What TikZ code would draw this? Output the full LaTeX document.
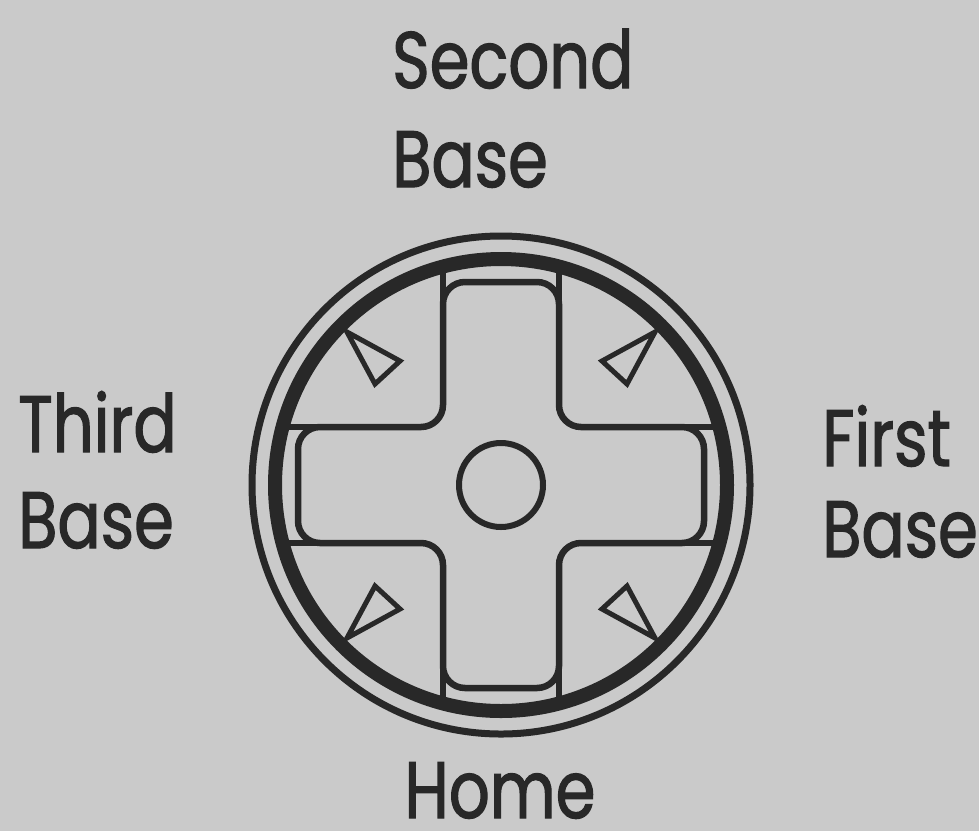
\documentclass[tikz,border=0pt]{standalone}
\usepackage{fontspec}
\setmainfont{Poppins}[FakeStretch=0.8, FakeBold=1.5]
\usetikzlibrary{calc}
\definecolor{paper}{RGB}{202,202,202}
\definecolor{ink}{RGB}{40,40,40}

\begin{document}
\begin{tikzpicture}[x=1pt, y=-1pt,
  every node/.style={font=\fontsize{80}{96}\selectfont, text=ink, inner sep=0pt},
  tag/.style={anchor=base west},
  ring/.style={draw=ink, line width=14pt},
  rim/.style={draw=ink, line width=7pt},
  pad/.style={draw=ink, line width=6.5pt, rounded corners=22pt},
  tri/.style={draw=ink, line width=5pt, line join=miter}
]
\fill[paper] (0,0) rectangle (979,831);
\useasboundingbox (0,0) rectangle (979,831);

% Controller
\coordinate (C) at (501,485);
\begin{scope}[shift={(C)}]
  % arm sides run out to the ring
  \foreach \a in {0,90,180,270}
    \draw[draw=ink, line width=6.5pt, rotate=\a] (58,-175) -- (58,-224) (-58,-175) -- (-58,-224);
  % the cross
  \draw[pad] (-58,-203) -- (58,-203) -- (58,-58) -- (203,-58) -- (203,58)
    -- (58,58) -- (58,203) -- (-58,203) -- (-58,58) -- (-203,58)
    -- (-203,-58) -- (-58,-58) -- cycle;
  % small arrows in the corners
  \foreach \sx/\sy in {1/1,1/-1,-1/1,-1/-1}
    \draw[tri, xscale=\sx, yscale=\sy] (154,153) -- (101,124) -- (126,101) -- cycle;
\end{scope}
\draw[rim] (C) circle (249pt);
\draw[ring] (C) circle (226pt);
\node[circle, draw=ink, line width=6pt, minimum size=84pt] (hub) at (C) {};

% Labels
\node[tag] (second) at (392,88) {Second};
\node[tag] (secondb) at (392,187) {Base};
\node[tag] (third) at (18,452) {Third};
\node[tag] (thirdb) at (18,548) {Base};
\node[tag] (first) at (822,466) {First};
\node[tag] (firstb) at (822,557) {Base};
\node[anchor=base, text depth=0pt] (home) at (500,818) {Home};

\end{tikzpicture}
\end{document}
